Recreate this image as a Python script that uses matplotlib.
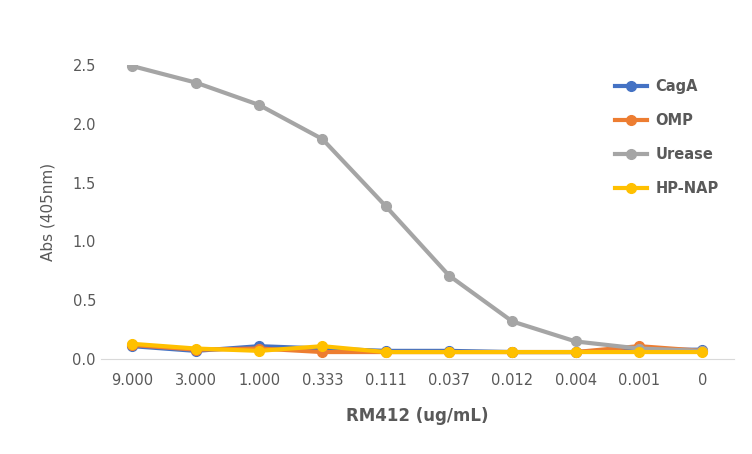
import matplotlib
matplotlib.use("Agg")
import matplotlib.pyplot as plt

cats = ["9.000","3.000","1.000","0.333","0.111","0.037","0.012","0.004","0.001","0"]
cagA = [0.11,0.07,0.11,0.09,0.07,0.07,0.06,0.06,0.08,0.08]
omp = [0.12,0.08,0.09,0.06,0.06,0.06,0.06,0.06,0.11,0.07]
urease = [2.49,2.35,2.16,1.87,1.30,0.71,0.32,0.15,0.09,0.07]
hpnap = [0.13,0.09,0.07,0.11,0.06,0.06,0.06,0.06,0.06,0.06]
series = [("CagA",cagA,"#4472C4"),("OMP",omp,"#ED7D31"),("Urease",urease,"#A5A5A5"),("HP-NAP",hpnap,"#FFC000")]

fig = plt.figure(figsize=(7.52,4.54), dpi=100)
ax = fig.add_axes([0.134, 0.209, 0.842, 0.648])
x = range(len(cats))
for name, v, c in series:
    ax.plot(x, v, color=c, lw=3, marker="o", ms=7, label=name)
ax.set_xlim(-0.5, 9.5)
ax.set_ylim(0, 2.5)
ax.set_yticks([0,0.5,1.0,1.5,2.0,2.5])
ax.set_yticklabels(["0.0","0.5","1.0","1.5","2.0","2.5"])
ax.set_xticks(list(x))
ax.set_xticklabels(cats)
ax.grid(False)
for s in ["top","right","left"]:
    ax.spines[s].set_visible(False)
ax.spines["bottom"].set_color("#D9D9D9")
ax.tick_params(length=0, colors="#595959", labelsize=10.5)
ax.tick_params(axis="x", pad=10)
ax.set_ylabel("Abs (405nm)", color="#595959", fontsize=11, labelpad=12)
ax.set_xlabel("RM412 (ug/mL)", color="#595959", fontsize=12, fontweight="bold", labelpad=14)
leg = fig.legend(loc="upper left", bbox_to_anchor=(0.8, 0.855), frameon=False, fontsize=10.5,
                 labelspacing=1.3, handlelength=2.2, handletextpad=0.6)
for t in leg.get_texts():
    t.set_color("#595959"); t.set_fontweight("bold")
fig.savefig("out.png", dpi=100)
